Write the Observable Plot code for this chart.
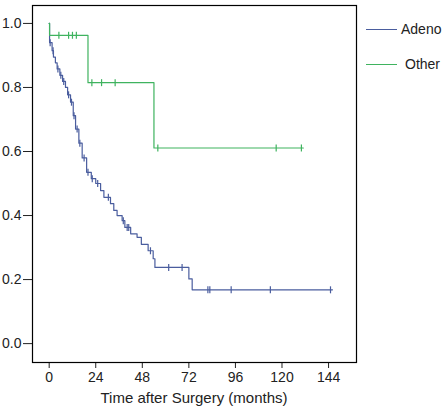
<!DOCTYPE html>
<html><head><meta charset="utf-8">
<script src="https://cdn.jsdelivr.net/npm/d3@7"></script>
<script src="https://cdn.jsdelivr.net/npm/@observablehq/plot@0.6"></script>
<style>
body{margin:0;background:#fff;font-family:"Liberation Sans",Arial,sans-serif;}
#wrap{position:relative;width:446px;height:411px;}
#xtitle{position:absolute;left:32px;width:324px;top:389px;text-align:center;font-size:15px;color:#222;line-height:18px;}
.leg{position:absolute;font-size:14px;color:#222;line-height:16px;}
.leg span.sw{position:absolute;width:31px;height:0;border-top:1px solid;}
</style></head><body><div id="wrap"></div>
<script>
const groups = ["Adeno", "Other"];
const groupColors = ["#4a5d9e", "#3fb35f"];

// Adeno: times of drops and survival after each drop
const adenoEventTimes = [0.2, 1.5, 2.2, 3.2, 4.1, 5.5, 6.9, 8.4, 9.5, 11, 12.4, 13.6, 15.3, 17, 19.3, 21.7, 24, 26.5, 28.2, 31.6, 33.3, 35, 37.6, 39, 42, 45.3, 47.5, 51, 53.6, 54.5, 72, 73.7];
const adenoSurvival = [0.94, 0.915, 0.895, 0.877, 0.858, 0.838, 0.819, 0.80, 0.777, 0.754, 0.712, 0.67, 0.626, 0.58, 0.535, 0.515, 0.50, 0.478, 0.457, 0.437, 0.416, 0.40, 0.384, 0.363, 0.343, 0.332, 0.31, 0.29, 0.265, 0.238, 0.202, 0.168];
const adenoEnd = 146;
const adenoCensorTimes = [0.5, 2, 4.5, 6, 7.5, 10, 11.5, 12.8, 14.4, 15.8, 18, 20, 22.2, 25, 30.5, 38.2, 40.2, 41, 52.2, 61.6, 68.5, 81.8, 82.8, 93.8, 114, 145];

// Other
const otherEventTimes = [0.2, 20, 54];
const otherSurvival = [0.963, 0.815, 0.611];
const otherEnd = 131;
const otherCensorTimes = [5, 10, 12, 14, 22, 27, 34, 56, 117, 130];

const xTicks = [0, 24, 48, 72, 96, 120, 144];
const yTicks = [0, 0.2, 0.4, 0.6, 0.8, 1.0];
const xTitle = "Time after Surgery (months)";

function curve(group, times, surv, end) {
  const pts = [{group, t: 0, s: 1}];
  times.forEach((t, i) => pts.push({group, t, s: surv[i]}));
  pts.push({group, t: end, s: surv[surv.length - 1]});
  return pts;
}
function survAt(times, surv, t) {
  let s = 1;
  times.forEach((tt, i) => { if (tt <= t) s = surv[i]; });
  return s;
}
const lines = [
  ...curve(groups[0], adenoEventTimes, adenoSurvival, adenoEnd),
  ...curve(groups[1], otherEventTimes, otherSurvival, otherEnd)
];
const censors = [
  ...adenoCensorTimes.map(t => ({group: groups[0], t, s: survAt(adenoEventTimes, adenoSurvival, t)})),
  ...otherCensorTimes.map(t => ({group: groups[1], t, s: survAt(otherEventTimes, otherSurvival, t)}))
];

const vbar = {draw(ctx, size) { const r = Math.sqrt(size / Math.PI); ctx.moveTo(0, -r); ctx.lineTo(0, r); }};

const chart = Plot.plot({
  width: 446, height: 385,
  marginLeft: 32, marginRight: 90, marginTop: 5, marginBottom: 23,
  style: {fontFamily: "'Liberation Sans', Arial, sans-serif", fontSize: "14px", color: "#222", background: "#fff"},
  x: {domain: [-8.6, 158.4], ticks: xTicks, tickSize: 6, tickPadding: 4, label: null, tickFormat: d3.format("d")},
  y: {domain: [-0.059, 1.056], ticks: yTicks, tickSize: 9, tickPadding: 2, label: null, tickFormat: d3.format(".1f")},
  color: {domain: groups, range: groupColors},
  marks: [
    Plot.line(lines, {x: "t", y: "s", z: "group", stroke: "group", curve: "step-after", strokeWidth: 1.2}),
    Plot.dot(censors, {x: "t", y: "s", stroke: "group", fill: "none", symbol: vbar, r: 3.5, strokeWidth: 1.2}),
    Plot.frame({stroke: "#000", strokeWidth: 1.2})
  ]
});
const wrap = document.getElementById("wrap");
wrap.appendChild(chart);
const t = document.createElement("div");
t.id = "xtitle"; t.textContent = xTitle; wrap.appendChild(t);
const legTop = [21, 56], legText = [401, 405];
groups.forEach((g, i) => {
  const sw = document.createElement("div");
  sw.className = "leg";
  sw.style.left = "366px"; sw.style.top = (legTop[i] + 8) + "px";
  sw.style.width = "31px"; sw.style.borderTop = "1px solid " + groupColors[i];
  wrap.appendChild(sw);
  const tx = document.createElement("div");
  tx.className = "leg"; tx.textContent = g;
  tx.style.left = legText[i] + "px"; tx.style.top = legTop[i] + "px";
  wrap.appendChild(tx);
});
</script></body></html>
